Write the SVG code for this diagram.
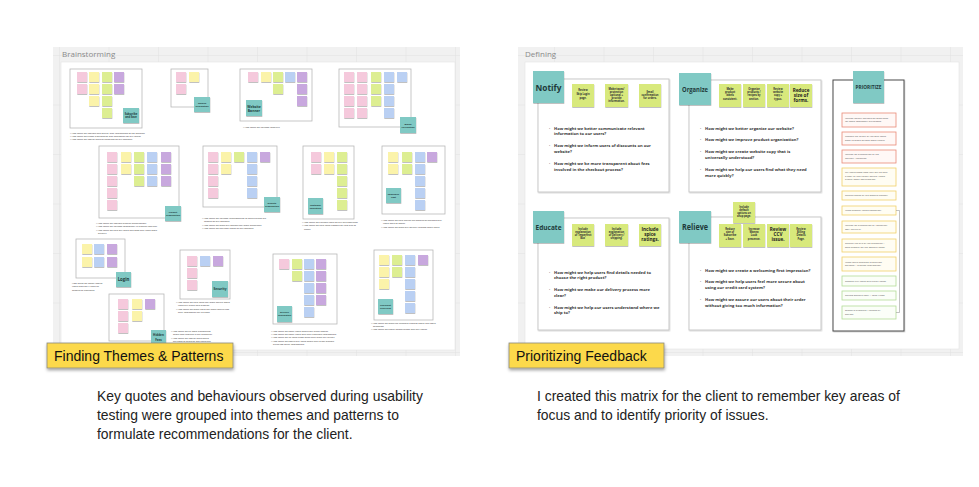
<svg xmlns="http://www.w3.org/2000/svg" xmlns:xlink="http://www.w3.org/1999/xlink" width="979" height="487" viewBox="0 0 979 487">
<defs>
<pattern id="grid" patternUnits="userSpaceOnUse" x="9.5" y="55" width="49.5" height="49.5">
<rect width="49.5" height="49.5" fill="#f1f1f1"/>
<path d="M0 0H49.5M0 0V49.5" stroke="#e2e2e2" stroke-width="1" fill="none"/>
</pattern>
<filter id="sh" x="-20%" y="-20%" width="150%" height="160%"><feDropShadow dx="0.3" dy="0.8" stdDeviation="0.5" flood-color="#000" flood-opacity="0.3"/></filter>
<filter id="shb" x="-20%" y="-20%" width="150%" height="170%"><feDropShadow dx="0.5" dy="2" stdDeviation="1.4" flood-color="#000" flood-opacity="0.35"/></filter>
<filter id="shf" x="-5%" y="-5%" width="112%" height="112%"><feDropShadow dx="0.6" dy="0.8" stdDeviation="0.6" flood-color="#000" flood-opacity="0.2"/></filter>
</defs>
<style>
.board{fill:url(#grid)}
.panel{fill:#fff;stroke:#e4e4e4;stroke-width:0.6}
.btitle{font-family:"Open Sans","Liberation Sans",sans-serif;font-size:8px;fill:#8a8a8a}
.frame{fill:#fff;stroke:#b8b8b8;stroke-width:0.8}
.s{filter:url(#sh)}
.pk{fill:#f5c9dc}.yl{fill:#fbf3aa}.gr{fill:#ddee92}.bl{fill:#bad0f3}.pu{fill:#c8a8de}
.teal{fill:#80c9c4}
.lime{fill:#d8e97b}
.tl{font-family:"Open Sans","Liberation Sans",sans-serif;font-weight:bold;fill:#1e3a3a;text-anchor:middle}
.tiny{font-family:"Open Sans","Liberation Sans",sans-serif;font-size:2.3px;fill:#333}
.q{font-family:"Open Sans","Liberation Sans",sans-serif;font-size:4.1px;font-weight:bold;fill:#333}
.sn{font-family:"Open Sans","Liberation Sans",sans-serif;font-size:2.6px;font-weight:bold;fill:#333;text-anchor:middle}
.sb{font-family:"Open Sans","Liberation Sans",sans-serif;font-size:4.6px;font-weight:bold;fill:#222;text-anchor:middle}
.dframe{fill:#fff;stroke:#c4c4c4;stroke-width:0.9;filter:url(#shf)}
.card{fill:#fff;stroke-width:0.8}
.r{stroke:#e98a78;fill:#fff8f6}.y{stroke:#f1d06a;fill:#fffdf3}.g{stroke:#b3dc97;fill:#fbfef8}
.ct{font-family:"Open Sans","Liberation Sans",sans-serif;font-size:2.5px;fill:#555}
.lab{fill:#fcd94c;stroke:#8c8a7c;stroke-width:0.8;filter:url(#shb)}
.labt{font-family:"Liberation Sans",Arial,sans-serif;font-size:14px;fill:#111}
.body{font-family:"Liberation Sans",Arial,sans-serif;font-size:13.9px;fill:#222}
.conn{fill:none;stroke:#9a9a9a;stroke-width:0.6}
</style>

<!-- LEFT BOARD -->
<g id="brainstorming-board">
<rect class="board" x="53" y="47" width="407" height="309"/>
<rect class="panel" x="61" y="62" width="394" height="288"/>
<text class="btitle" x="62" y="57">Brainstorming</text>
</g>

<g id="cluster-subscribe">
<rect class="frame" x="70" y="69" width="72" height="59"/>
<rect class="s pk" x="77" y="72" width="10" height="10"/><rect class="s yl" x="89" y="72" width="10" height="10"/><rect class="s gr" x="102" y="72" width="10" height="10"/><rect class="s pu" x="114" y="72" width="10" height="10"/>
<rect class="s pk" x="77" y="84" width="10" height="10"/><rect class="s yl" x="89" y="84" width="10" height="10"/><rect class="s gr" x="102" y="84" width="10" height="10"/><rect class="s pu" x="114" y="84" width="10" height="10"/>
<rect class="s yl" x="89" y="96" width="10" height="10"/><rect class="s gr" x="102" y="96" width="10" height="10"/>
<rect class="s gr" x="102" y="108" width="10" height="10"/>
<rect class="s teal" x="123" y="108" width="16" height="15"/>
<text class="tl" font-size="2.6" x="131" y="115">Subscribe</text><text class="tl" font-size="2.6" x="131" y="118.2">and Save</text>
<text class="tiny" x="70" y="134">• How might we improve and secure 'first' impressions of the website?</text>
<text class="tiny" x="70" y="137.2">• How might we create a welcoming first impression for our users?</text>
<text class="tiny" x="70" y="140.4">• How might we inform users of discounts on our website?</text>
</g>

<g id="cluster-information">
<rect class="frame" x="171" y="69" width="37" height="38"/>
<rect class="s pk" x="176" y="72" width="10" height="10"/><rect class="s yl" x="189" y="72" width="10" height="10"/>
<rect class="s pk" x="176" y="84" width="10" height="10"/>
<rect class="s teal" x="194" y="97" width="16" height="15"/>
<text class="tl" font-size="2.2" x="202" y="104">Missing</text><text class="tl" font-size="2.2" x="202" y="107">Information</text>
</g>

<g id="cluster-banner">
<rect class="frame" x="240" y="69" width="72" height="52"/>
<rect class="s pk" x="248" y="72" width="10" height="10"/><rect class="s yl" x="261" y="72" width="10" height="10"/><rect class="s gr" x="273" y="72" width="10" height="10"/><rect class="s bl" x="285" y="72" width="10" height="10"/><rect class="s pu" x="297" y="72" width="10" height="10"/>
<rect class="s gr" x="273" y="84" width="10" height="10"/><rect class="s pu" x="297" y="84" width="10" height="10"/>
<rect class="s pu" x="297" y="96" width="10" height="10"/>
<rect class="s teal" x="246" y="100" width="16" height="16"/>
<text class="tl" font-size="3.4" x="254" y="107.5">Website</text><text class="tl" font-size="3.4" x="254" y="111.5">Banner</text>
<text class="tiny" x="243" y="128">• How might we increase usability?</text>
</g>

<g id="cluster-brand">
<rect class="frame" x="339" y="69" width="72" height="58"/>
<rect class="s pk" x="344" y="72" width="10" height="10"/><rect class="s pk" x="357" y="72" width="10" height="10"/><rect class="s gr" x="371" y="72" width="10" height="10"/><rect class="s bl" x="384" y="72" width="10" height="10"/><rect class="s bl" x="397" y="72" width="10" height="10"/>
<rect class="s pk" x="344" y="84" width="10" height="10"/><rect class="s pk" x="357" y="84" width="10" height="10"/><rect class="s gr" x="371" y="84" width="10" height="10"/><rect class="s bl" x="384" y="84" width="10" height="10"/>
<rect class="s pk" x="344" y="96" width="10" height="10"/><rect class="s pk" x="357" y="96" width="10" height="10"/><rect class="s gr" x="371" y="96" width="10" height="10"/><rect class="s bl" x="384" y="96" width="10" height="10"/>
<rect class="s pk" x="344" y="108" width="10" height="10"/><rect class="s pk" x="357" y="108" width="10" height="10"/><rect class="s bl" x="384" y="108" width="10" height="10"/>
<rect class="s teal" x="400" y="117" width="16" height="16"/>
<text class="tl" font-size="2.4" x="408" y="124.5">Brand</text><text class="tl" font-size="2.4" x="408" y="127.5">Perception</text>
</g>

<g id="cluster-product-org">
<rect class="frame" x="99" y="146" width="80" height="72"/>
<rect class="s pk" x="107" y="152" width="10" height="10"/><rect class="s yl" x="121" y="152" width="10" height="10"/><rect class="s gr" x="134" y="152" width="10" height="10"/><rect class="s bl" x="147" y="152" width="10" height="10"/><rect class="s pu" x="161" y="152" width="10" height="10"/>
<rect class="s pk" x="107" y="164" width="10" height="10"/><rect class="s yl" x="121" y="164" width="10" height="10"/><rect class="s gr" x="134" y="164" width="10" height="10"/><rect class="s bl" x="147" y="164" width="10" height="10"/><rect class="s pu" x="161" y="164" width="10" height="10"/>
<rect class="s pk" x="107" y="176" width="10" height="10"/><rect class="s gr" x="134" y="176" width="10" height="10"/><rect class="s bl" x="147" y="176" width="10" height="10"/><rect class="s pu" x="161" y="176" width="10" height="10"/>
<rect class="s pk" x="107" y="188" width="10" height="10"/>
<rect class="s pk" x="107" y="200" width="10" height="10"/>
<rect class="s teal" x="165" y="206" width="16" height="15"/>
<text class="tl" font-size="2.2" x="173" y="213">Product</text><text class="tl" font-size="2.2" x="173" y="216">Organization</text>
<text class="tiny" x="96" y="224">• How might we improve product organization?</text>
<text class="tiny" x="96" y="227.3">• How might we increase consistency in product labeling?</text>
<text class="tiny" x="96" y="230.6">• How might we help our users find what they need more</text>
<text class="tiny" x="98" y="233.9">quickly?</text>
</g>

<g id="cluster-website-org">
<rect class="frame" x="203" y="146" width="74" height="61"/>
<rect class="s pk" x="208" y="152" width="10" height="10"/><rect class="s yl" x="221" y="152" width="10" height="10"/><rect class="s gr" x="234" y="152" width="10" height="10"/><rect class="s bl" x="247" y="152" width="10" height="10"/><rect class="s pu" x="260" y="152" width="10" height="10"/>
<rect class="s pk" x="208" y="164" width="10" height="10"/><rect class="s yl" x="221" y="164" width="10" height="10"/><rect class="s bl" x="247" y="164" width="10" height="10"/>
<rect class="s pk" x="208" y="176" width="10" height="10"/><rect class="s bl" x="247" y="176" width="10" height="10"/>
<rect class="s pk" x="208" y="188" width="10" height="10"/><rect class="s bl" x="247" y="188" width="10" height="10"/>
<rect class="s teal" x="264" y="197" width="16" height="15"/>
<text class="tl" font-size="2.2" x="272" y="204">Website</text><text class="tl" font-size="2.2" x="272" y="207">Organization</text>
<text class="tiny" x="202" y="219">• How might we increase understanding of where things are</text>
<text class="tiny" x="204" y="222.3">located on our website?</text>
<text class="tiny" x="202" y="225.6">• How might we make our website feel more organized?</text>
<text class="tiny" x="202" y="228.9">• How might we declutter pages on our website?</text>
</g>

<g id="cluster-education">
<rect class="frame" x="303" y="146" width="51" height="73"/>
<rect class="s pk" x="311" y="152" width="10" height="10"/><rect class="s yl" x="324" y="152" width="10" height="10"/><rect class="s gr" x="337" y="152" width="10" height="10"/>
<rect class="s pk" x="311" y="164" width="10" height="10"/><rect class="s yl" x="324" y="164" width="10" height="10"/><rect class="s gr" x="337" y="164" width="10" height="10"/>
<rect class="s gr" x="337" y="176" width="10" height="10"/>
<rect class="s gr" x="337" y="188" width="10" height="10"/>
<rect class="s gr" x="337" y="200" width="10" height="10"/>
<rect class="s teal" x="308" y="198" width="15" height="16"/>
<text class="tl" font-size="2.3" x="315.5" y="205.5">Customer</text><text class="tl" font-size="2.3" x="315.5" y="208.6">Education</text>
<text class="tiny" x="302" y="223">• How might we educate users on our size offerings?</text>
<text class="tiny" x="302" y="226.3">• How might we help users choose the right size to</text>
<text class="tiny" x="304" y="229.6">need?</text>
</g>

<g id="cluster-cost">
<rect class="frame" x="382" y="146" width="63" height="68"/>
<rect class="s yl" x="388" y="152" width="10" height="10"/><rect class="s gr" x="402" y="152" width="10" height="10"/><rect class="s bl" x="415" y="152" width="10" height="10"/><rect class="s pu" x="427" y="152" width="10" height="10"/>
<rect class="s yl" x="388" y="164" width="10" height="10"/><rect class="s gr" x="402" y="164" width="10" height="10"/><rect class="s bl" x="415" y="164" width="10" height="10"/>
<rect class="s bl" x="415" y="176" width="10" height="10"/>
<rect class="s bl" x="415" y="188" width="10" height="10"/>
<rect class="s bl" x="415" y="200" width="10" height="10"/>
<rect class="s teal" x="386" y="188" width="15" height="15"/>
<text class="tl" font-size="2.3" x="393.5" y="195">Expensive</text><text class="tl" font-size="2.3" x="393.5" y="198">Cost</text>
<text class="tiny" x="381" y="221">• How might we help reduce the amount of decisions our</text>
<text class="tiny" x="383" y="224.3">users need to make?</text>
<text class="tiny" x="381" y="227.6">• How might we make our delivery process more clear?</text>
</g>

<g id="cluster-login">
<rect class="frame" x="76" y="239" width="49" height="39"/>
<rect class="s yl" x="82" y="244" width="10" height="10"/><rect class="s bl" x="94" y="244" width="10" height="10"/><rect class="s pu" x="107" y="244" width="10" height="10"/>
<rect class="s yl" x="82" y="257" width="10" height="10"/><rect class="s bl" x="94" y="257" width="10" height="10"/><rect class="s pu" x="107" y="257" width="10" height="10"/>
<rect class="s teal" x="116" y="272" width="15" height="15"/>
<text class="tl" font-size="4.3" x="123.5" y="281">Login</text>
<text class="tiny" x="72" y="284">How might we better inform</text>
<text class="tiny" x="72" y="287.3">users that they'll need an</text>
<text class="tiny" x="72" y="290.6">account at checkout?</text>
</g>

<g id="cluster-security">
<rect class="frame" x="180" y="250" width="50" height="49"/>
<rect class="s pk" x="187" y="256" width="10" height="10"/><rect class="s bl" x="200" y="256" width="10" height="10"/><rect class="s pu" x="213" y="256" width="10" height="10"/>
<rect class="s pk" x="187" y="268" width="10" height="10"/>
<rect class="s pk" x="187" y="280" width="10" height="10"/>
<rect class="s teal" x="212" y="281" width="16" height="16"/>
<text class="tl" font-size="3.2" x="220" y="290">Security</text>
<text class="tiny" x="176" y="303">• How might we help users feel more secure about</text>
<text class="tiny" x="178" y="306.3">using our credit card system?</text>
<text class="tiny" x="176" y="309.6">• How might we make users feel more secure that</text>
<text class="tiny" x="178" y="312.9">their information will be safe?</text>
</g>

<g id="cluster-hidden-fees">
<rect class="frame" x="109" y="294" width="55" height="47"/>
<rect class="s pk" x="118" y="299" width="10" height="10"/><rect class="s yl" x="132" y="299" width="10" height="10"/><rect class="s pu" x="145" y="299" width="10" height="10"/>
<rect class="s pk" x="118" y="311" width="10" height="10"/><rect class="s yl" x="132" y="311" width="10" height="10"/>
<rect class="s pk" x="118" y="323" width="10" height="10"/>
<rect class="s teal" x="151" y="330" width="15" height="16"/>
<text class="tl" font-size="3" x="158.5" y="336">Hidden</text><text class="tl" font-size="3" x="158.5" y="341">Fees</text>
<text class="tiny" x="171" y="332">• How might we be more transparent</text>
<text class="tiny" x="173" y="335.3">about fees involved in the checkout?</text>
<text class="tiny" x="171" y="338.6">• How might we inform users about</text>
<text class="tiny" x="173" y="341.9">the costs of shipping and handling?</text>
</g>

<g id="cluster-delivery">
<rect class="frame" x="273" y="254" width="64" height="70"/>
<rect class="s pk" x="279" y="259" width="10" height="10"/><rect class="s gr" x="292" y="259" width="10" height="10"/><rect class="s bl" x="304" y="259" width="10" height="10"/><rect class="s pu" x="316" y="259" width="10" height="10"/>
<rect class="s gr" x="292" y="271" width="10" height="10"/><rect class="s bl" x="304" y="271" width="10" height="10"/><rect class="s pu" x="316" y="271" width="10" height="10"/>
<rect class="s bl" x="304" y="283" width="10" height="10"/><rect class="s pu" x="316" y="283" width="10" height="10"/>
<rect class="s bl" x="304" y="295" width="10" height="10"/><rect class="s pu" x="316" y="295" width="10" height="10"/>
<rect class="s bl" x="304" y="307" width="10" height="10"/>
<rect class="s teal" x="277" y="306" width="15" height="16"/>
<text class="tl" font-size="2.2" x="284.5" y="313">Delivery</text><text class="tl" font-size="2.2" x="284.5" y="316">Information</text>
<text class="tiny" x="271" y="332">• How might we notify users about their order status?</text>
<text class="tiny" x="271" y="335.2">• How might we notify users with their checkout information?</text>
<text class="tiny" x="271" y="338.4">• How might we let users know when their order will arrive?</text>
<text class="tiny" x="271" y="341.6">• How might we assure our users about their order without</text>
<text class="tiny" x="273" y="344.8">giving too much information?</text>
</g>

<g id="cluster-checkout">
<rect class="frame" x="374" y="250" width="59" height="70"/>
<rect class="s yl" x="379" y="255" width="10" height="10"/><rect class="s gr" x="392" y="255" width="10" height="10"/><rect class="s bl" x="405" y="255" width="10" height="10"/><rect class="s pu" x="418" y="255" width="10" height="10"/>
<rect class="s yl" x="379" y="267" width="10" height="10"/><rect class="s gr" x="392" y="267" width="10" height="10"/><rect class="s bl" x="405" y="267" width="10" height="10"/>
<rect class="s yl" x="379" y="279" width="10" height="10"/><rect class="s bl" x="405" y="279" width="10" height="10"/>
<rect class="s bl" x="405" y="291" width="10" height="10"/>
<rect class="s bl" x="405" y="303" width="10" height="10"/>
<rect class="s teal" x="378" y="299" width="15" height="15"/>
<text class="tl" font-size="2.3" x="385.5" y="306">Checkout</text><text class="tl" font-size="2.3" x="385.5" y="309">Overview</text>
<text class="tiny" x="371" y="324">• How might we make the checkout process easier and more</text>
<text class="tiny" x="373" y="327.2">seamless?</text>
<text class="tiny" x="371" y="330.4">• How might we better communicate with our users?</text>
</g>

<!-- RIGHT BOARD -->
<g id="defining-board">
<rect class="board" x="518" y="47" width="445" height="309"/>
<rect class="panel" x="525" y="62" width="434" height="287"/>
<text class="btitle" x="525" y="57">Defining</text>
</g>

<g id="notify">
<rect class="dframe" x="538" y="79" width="131" height="113"/>
<rect class="s teal" x="533" y="71" width="31" height="32" filter="url(#shb)"/>
<text class="tl" font-size="9.5" x="548.5" y="90.5" textLength="26" lengthAdjust="spacingAndGlyphs">Notify</text>
<rect class="s lime" x="572" y="84" width="22" height="23"/>
<text class="sn" font-size="3.3" x="583" y="91">Review</text><text class="sn" font-size="3.3" x="583" y="95">Skip Login</text><text class="sn" font-size="3.3" x="583" y="99">page.</text>
<rect class="s lime" x="605" y="84" width="23" height="23"/>
<text class="sn" x="616.5" y="89.5">Make taxes/</text><text class="sn" x="616.5" y="92.5">protection</text><text class="sn" x="616.5" y="95.5">optional +</text><text class="sn" x="616.5" y="98.5">provide</text><text class="sn" x="616.5" y="101.5">information.</text>
<rect class="s lime" x="639" y="84" width="22" height="23"/>
<text class="sn" x="650" y="93">Email</text><text class="sn" x="650" y="96">confirmation</text><text class="sn" x="650" y="99">for orders.</text>
<text class="q" x="549" y="129.5">·</text>
<text class="q" x="554" y="129.5">How might we better communicate relevant</text>
<text class="q" x="554" y="135.3">information to our users?</text>
<text class="q" x="549" y="147.3">·</text>
<text class="q" x="554" y="147.3">How might we inform users of discounts on our</text>
<text class="q" x="554" y="153.1">website?</text>
<text class="q" x="549" y="165">·</text>
<text class="q" x="554" y="165">How might we be more transparent about fees</text>
<text class="q" x="554" y="170.8">involved in the checkout process?</text>
</g>

<g id="organize">
<rect class="dframe" x="689" y="80" width="132" height="112"/>
<rect class="s teal" x="679" y="73" width="32" height="32" filter="url(#shb)"/>
<text class="tl" font-size="7.5" x="695" y="91.5" textLength="26" lengthAdjust="spacingAndGlyphs">Organize</text>
<rect class="s lime" x="719" y="84" width="22" height="23"/>
<text class="sn" x="730" y="90">Make</text><text class="sn" x="730" y="93.2">product</text><text class="sn" x="730" y="96.4">labels</text><text class="sn" x="730" y="99.6">consistent.</text>
<rect class="s lime" x="743" y="84" width="22" height="23"/>
<text class="sn" x="754" y="90">Organize</text><text class="sn" x="754" y="93.2">products /</text><text class="sn" x="754" y="96.4">recipes by</text><text class="sn" x="754" y="99.6">section.</text>
<rect class="s lime" x="767" y="84" width="22" height="23"/>
<text class="sn" x="778" y="90">Review</text><text class="sn" x="778" y="93.2">website</text><text class="sn" x="778" y="96.4">copy +</text><text class="sn" x="778" y="99.6">typos.</text>
<rect class="s lime" x="790" y="84" width="22" height="23"/>
<text class="sb" x="801" y="91.5">Reduce</text><text class="sb" x="801" y="96.8">size of</text><text class="sb" x="801" y="102.1">forms.</text>
<text class="q" x="700" y="129.5">·</text>
<text class="q" x="705" y="129.5">How might we better organize our website?</text>
<text class="q" x="700" y="141.3">·</text>
<text class="q" x="705" y="141.3">How might we improve product organization?</text>
<text class="q" x="700" y="153.3">·</text>
<text class="q" x="705" y="153.3">How might we create website copy that is</text>
<text class="q" x="705" y="159.1">universally understood?</text>
<text class="q" x="700" y="171">·</text>
<text class="q" x="705" y="171">How might we help our users find what they need</text>
<text class="q" x="705" y="176.8">more quickly?</text>
</g>

<g id="educate">
<rect class="dframe" x="538" y="218" width="131" height="112"/>
<rect class="s teal" x="533" y="211" width="31" height="32" filter="url(#shb)"/>
<text class="tl" font-size="7.5" x="548.5" y="229.5" textLength="26" lengthAdjust="spacingAndGlyphs">Educate</text>
<rect class="s lime" x="572" y="224" width="22" height="22"/>
<text class="sn" x="583" y="230">Include</text><text class="sn" x="583" y="233">explanation</text><text class="sn" x="583" y="236">of 'Imperfect</text><text class="sn" x="583" y="239">Box'</text>
<rect class="s lime" x="605" y="224" width="23" height="22"/>
<text class="sn" x="616.5" y="230">Include</text><text class="sn" x="616.5" y="233">explanation</text><text class="sn" x="616.5" y="236">of Delivery /</text><text class="sn" x="616.5" y="239">shipping.</text>
<rect class="s lime" x="639" y="224" width="22" height="22"/>
<text class="sb" x="650" y="230.5">Include</text><text class="sb" x="650" y="235.8">spice</text><text class="sb" x="650" y="241.1">ratings.</text>
<text class="q" x="549" y="273.5">·</text>
<text class="q" x="554" y="273.5">How might we help users find details needed to</text>
<text class="q" x="554" y="279.3">choose the right product?</text>
<text class="q" x="549" y="291">·</text>
<text class="q" x="554" y="291">How might we make our delivery process more</text>
<text class="q" x="554" y="296.8">clear?</text>
<text class="q" x="549" y="308.5">·</text>
<text class="q" x="554" y="308.5">How might we help our users understand where we</text>
<text class="q" x="554" y="314.3">ship to?</text>
</g>

<g id="relieve">
<rect class="dframe" x="689" y="217" width="132" height="113"/>
<rect class="s teal" x="679" y="211" width="32" height="32" filter="url(#shb)"/>
<text class="tl" font-size="8.5" x="695" y="230" textLength="26" lengthAdjust="spacingAndGlyphs">Relieve</text>
<rect class="s lime" x="733" y="202" width="22" height="21"/>
<text class="sn" x="744" y="207.5">Include</text><text class="sn" x="744" y="210.7">default</text><text class="sn" x="744" y="213.9">options on</text><text class="sn" x="744" y="217.1">shop page.</text>
<rect class="s lime" x="719" y="224" width="22" height="23"/>
<text class="sn" x="730" y="230">Reduce</text><text class="sn" x="730" y="233.2">size of</text><text class="sn" x="730" y="236.4">Subscribe</text><text class="sn" x="730" y="239.6">+ Save.</text>
<rect class="s lime" x="743" y="224" width="22" height="23"/>
<text class="sn" x="754" y="230">Increase</text><text class="sn" x="754" y="233.2">Wanna</text><text class="sn" x="754" y="236.4">Look</text><text class="sn" x="754" y="239.6">presence.</text>
<rect class="s lime" x="767" y="224" width="22" height="23"/>
<text class="sb" x="778" y="230.5">Review</text><text class="sb" x="778" y="235.8">CCV</text><text class="sb" x="778" y="241.1">issue.</text>
<rect class="s lime" x="790" y="224" width="22" height="23"/>
<text class="sn" x="801" y="230">Review</text><text class="sn" x="801" y="233.2">Billing</text><text class="sn" x="801" y="236.4">Details</text><text class="sn" x="801" y="239.6">Page.</text>
<text class="q" x="700" y="271.5">·</text>
<text class="q" x="705" y="271.5">How might we create a welcoming first impression?</text>
<text class="q" x="700" y="283.3">·</text>
<text class="q" x="705" y="283.3">How might we help users feel more secure about</text>
<text class="q" x="705" y="289.1">using our credit card system?</text>
<text class="q" x="700" y="300.8">·</text>
<text class="q" x="705" y="300.8">How might we assure our users about their order</text>
<text class="q" x="705" y="306.6">without giving too much information?</text>
</g>

<g id="prioritize">
<rect x="833" y="80" width="71" height="251" fill="#fff" stroke="#4a4a4a" stroke-width="1" filter="url(#shf)"/>
<rect class="s teal" x="853" y="71" width="31" height="32" filter="url(#shb)"/>
<text class="tl" font-size="4.3" x="868.5" y="88.5" textLength="26" lengthAdjust="spacingAndGlyphs">PRIORITIZE</text>
<rect class="card r" x="842" y="113" width="54" height="14"/>
<text class="ct" x="845" y="118.5">Include default options on shop page</text><text class="ct" x="845" y="122">for more commonly purchased.</text>
<rect class="card r" x="842" y="132" width="54" height="13"/>
<text class="ct" x="845" y="137">Change the layout of the Skip Login</text><text class="ct" x="845" y="140.5">page to make actions more visible.</text>
<rect class="card r" x="842" y="150" width="54" height="13"/>
<text class="ct" x="845" y="155">Include an explanation of the</text><text class="ct" x="845" y="158.5">delivery / shipping.</text>
<rect class="card y" x="842" y="168" width="54" height="18"/>
<text class="ct" x="845" y="173">Let users know how they will be sent</text><text class="ct" x="845" y="176.5">a copy of their order details. Users</text><text class="ct" x="845" y="180">expect email confirmation.</text>
<rect class="card y" x="842" y="191" width="54" height="9"/>
<text class="ct" x="845" y="196.3">Reduce speed of the website banner.</text>
<rect class="card y" x="842" y="206" width="54" height="9"/>
<text class="ct" x="845" y="211.3">Make product labels consistent.</text>
<rect class="card y" x="842" y="221" width="54" height="12"/>
<text class="ct" x="845" y="226">Include an explanation of "Imperfect</text><text class="ct" x="845" y="229.5">Box" as a size.</text>
<rect class="card y" x="842" y="239" width="54" height="13"/>
<text class="ct" x="845" y="244">Reduce the size of the Subscribe +</text><text class="ct" x="845" y="247.5">Save prompt on the website leads.</text>
<rect class="card y" x="842" y="257" width="54" height="14"/>
<text class="ct" x="845" y="262.5">Make route shipping protection</text><text class="ct" x="845" y="266">optional + provide information.</text>
<rect class="card g" x="842" y="276" width="54" height="10"/>
<text class="ct" x="845" y="281.8">Resolve CCV issue with credit cards.</text>
<rect class="card g" x="842" y="291" width="54" height="9"/>
<text class="ct" x="845" y="296.3">Review website copy + form typos.</text>
<rect class="card g" x="842" y="306" width="54" height="13"/>
<text class="ct" x="845" y="311">Organize products / recipes by</text><text class="ct" x="845" y="314.5">section.</text>
</g>

<g id="connectors">
<path class="conn" d="M896 210.5 H899.5 V312.5 H896"/>
</g>

<!-- LABELS -->
<g id="label-themes">
<rect class="lab" x="47" y="343" width="186" height="25"/>
<text class="labt" x="54" y="361">Finding Themes &amp; Patterns</text>
</g>
<g id="label-prioritizing">
<rect class="lab" x="509" y="343" width="155" height="25"/>
<text class="labt" x="516" y="361">Prioritizing Feedback</text>
</g>

<g id="caption-left">
<text class="body" x="97" y="401">Key quotes and behaviours observed during usability</text>
<text class="body" x="97" y="420">testing were grouped into themes and patterns to</text>
<text class="body" x="97" y="439">formulate recommendations for the client.</text>
</g>
<g id="caption-right">
<text class="body" x="537" y="401">I created this matrix for the client to remember key areas of</text>
<text class="body" x="537" y="420">focus and to identify priority of issues.</text>
</g>
</svg>
